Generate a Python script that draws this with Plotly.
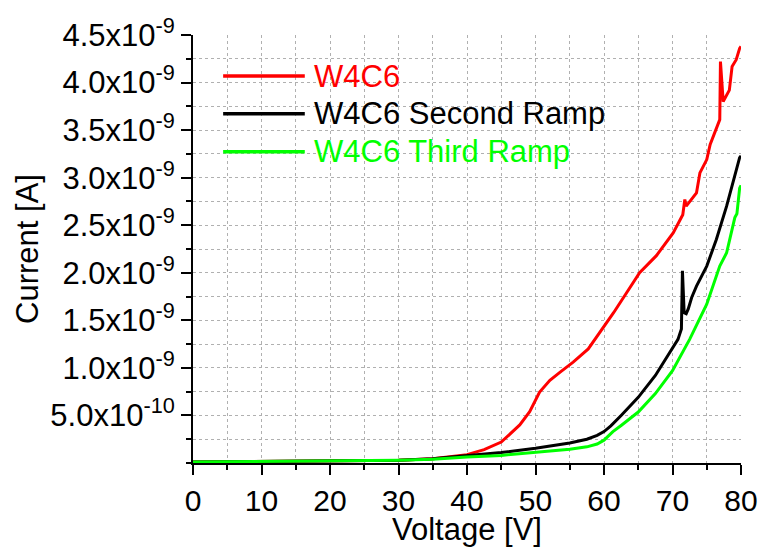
import numpy as np
import plotly.graph_objects as go

# ---- data (voltage in V, current in nA) ----
red_v = [0, 10, 20, 30, 35, 40, 42.5, 45, 47.7, 49.15, 50.6, 52.1, 53.6, 55.5, 57.7, 59.4, 61.4,
         63.3, 64.6, 65.2, 67.65, 70.1, 71.5, 71.8, 72.0, 73.5, 74.0, 75.0, 75.5, 76.4, 76.9,
         77.0, 77.4, 78.3, 78.7, 79.3, 79.8, 80.0]
red_i = [0.01, 0.015, 0.02, 0.03, 0.045, 0.088, 0.14, 0.22, 0.40, 0.54, 0.745, 0.87, 0.955, 1.06,
         1.20, 1.37, 1.58, 1.79, 1.93, 2.00, 2.18, 2.42, 2.61, 2.77, 2.70, 2.84, 3.05, 3.19, 3.35,
         3.51, 3.61, 4.22, 3.80, 3.92, 4.17, 4.24, 4.36, 4.38]

black_v = [0, 10, 20, 30, 35, 40, 45, 50, 55, 57.5, 59, 60, 61, 62.5, 65, 67.5, 70, 70.8, 71.3,
           71.45, 71.7, 72.0, 72.3, 72.8, 73.5, 75.0, 76.4, 77.9, 79.8, 80.0]
black_i = [0.01, 0.015, 0.02, 0.03, 0.045, 0.075, 0.11, 0.155, 0.21, 0.25, 0.29, 0.33, 0.39,
           0.50, 0.69, 0.92, 1.20, 1.30, 1.41, 2.02, 1.58, 1.57, 1.62, 1.74, 1.86, 2.07, 2.35,
           2.70, 3.21, 3.23]

green_v = [0, 10, 20, 30, 35, 40, 45, 50, 55, 57.5, 59, 60, 61.3, 62.5, 63.8, 65, 67.5, 70, 72.5,
           75, 76.9, 77.9, 79.1, 79.4, 79.8, 80.0]
green_i = [0.01, 0.015, 0.02, 0.03, 0.04, 0.064, 0.08, 0.109, 0.144, 0.17, 0.2, 0.24, 0.33, 0.395,
           0.466, 0.536, 0.73, 0.97, 1.30, 1.67, 2.07, 2.21, 2.58, 2.62, 2.89, 2.92]

series_names = ["W4C6", "W4C6 Second Ramp", "W4C6 Third Ramp"]
series_colors = ["#ff0000", "#000000", "#00ff00"]

x_ticks = [0, 10, 20, 30, 40, 50, 60, 70, 80]
y_tick_vals_nA = [0.5, 1.0, 1.5, 2.0, 2.5, 3.0, 3.5, 4.0, 4.5]
y_tick_text = ["5.0x10<sup>-10</sup>", "1.0x10<sup>-9</sup>", "1.5x10<sup>-9</sup>",
               "2.0x10<sup>-9</sup>", "2.5x10<sup>-9</sup>", "3.0x10<sup>-9</sup>",
               "3.5x10<sup>-9</sup>", "4.0x10<sup>-9</sup>", "4.5x10<sup>-9</sup>"]

FONT = "Liberation Sans, Arial, sans-serif"

fig = go.Figure()
for v, i, name, col in zip([red_v, black_v, green_v], [red_i, black_i, green_i],
                           series_names, series_colors):
    fig.add_trace(go.Scatter(x=v, y=np.array(i) * 1e-9, mode="lines", name=name,
                             line=dict(color=col, width=3), showlegend=False))

grid = dict(gridcolor="#b0b0b0", griddash="dot", gridwidth=1)

fig.update_layout(
    width=758, height=548,
    margin=dict(l=193, r=17, t=35, b=85),
    paper_bgcolor="white", plot_bgcolor="white",
    font=dict(family=FONT, color="black", size=30),
    xaxis=dict(range=[0, 80], tickvals=x_ticks, ticks="outside", ticklen=10, tickwidth=2,
               tickcolor="black", showline=True, linewidth=2, linecolor="black",
               zeroline=False, showgrid=True, automargin=False, **grid,
               tickfont=dict(size=30),
               minor=dict(dtick=5, ticks="outside", ticklen=5, tickwidth=2, tickcolor="black",
                          showgrid=True, **grid)),
    yaxis=dict(range=[0, 4.5e-9], tickvals=[t * 1e-9 for t in y_tick_vals_nA],
               ticktext=y_tick_text, ticks="outside", ticklen=10, tickwidth=2,
               tickcolor="black", showline=True, linewidth=2, linecolor="black",
               zeroline=False, showgrid=True, automargin=False, **grid,
               tickfont=dict(size=31),
               minor=dict(dtick=0.25e-9, tick0=0, ticks="outside", ticklen=5, tickwidth=2,
                          tickcolor="black", showgrid=True, **grid),
               title=dict(text="Current [A]", font=dict(size=31), standoff=3)),
)

# x-axis title placed as annotation just below the tick labels
fig.add_annotation(xref="paper", yref="paper", x=0.5, y=-0.11, xanchor="center",
                   yanchor="top", text="Voltage [V]", showarrow=False,
                   font=dict(family=FONT, size=31, color="black"))

# custom legend (long line samples like the reference)
leg_y = [0.904, 0.816, 0.727]
for name, col, ly in zip(series_names, series_colors, leg_y):
    fig.add_shape(type="line", xref="paper", yref="paper", x0=0.055, x1=0.204, y0=ly, y1=ly,
                  line=dict(color=col, width=3.5))
    fig.add_annotation(xref="paper", yref="paper", x=0.217, y=ly, xanchor="left",
                       yanchor="middle", text=name, showarrow=False,
                       font=dict(family=FONT, size=31, color=col))

fig.write_html("out.html")
